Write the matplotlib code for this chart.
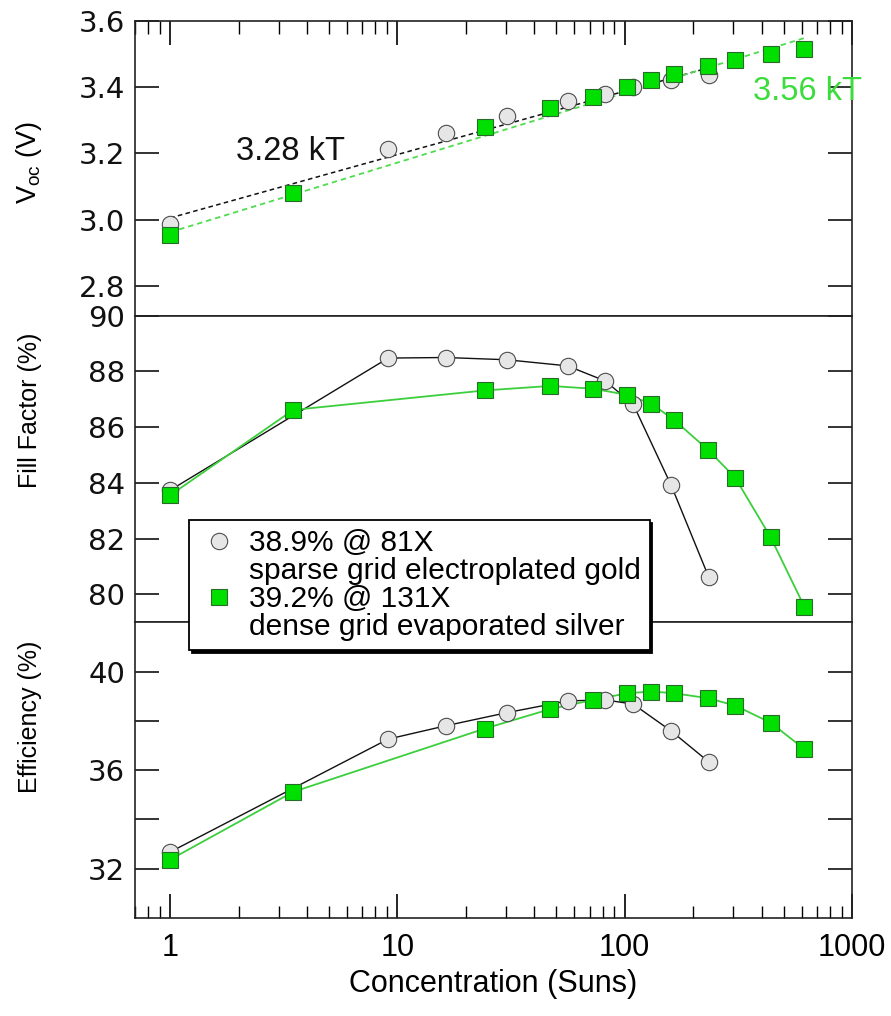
import matplotlib
matplotlib.use("Agg")
import matplotlib.pyplot as plt
from matplotlib.lines import Line2D
from matplotlib.ticker import LogLocator, FixedLocator, NullFormatter

plt.rcParams['font.family'] = ['Liberation Sans', 'DejaVu Sans']
plt.rcParams['mathtext.fontset'] = 'custom'
plt.rcParams['mathtext.rm'] = 'Liberation Sans'
plt.rcParams['mathtext.it'] = 'Liberation Sans:italic'

# ---------------- data ----------------
# sparse grid electroplated gold (circles)
gold_x = [1.0, 9.1, 16.3, 30.2, 56, 82, 109, 160, 234]
gold_voc = [2.986, 3.214, 3.261, 3.311, 3.358, 3.378, 3.399, 3.421, 3.436]
gold_ff = [83.74, 88.48, 88.50, 88.42, 88.20, 87.66, 86.82, 83.92, 80.63]
gold_eff = [32.68, 37.26, 37.80, 38.33, 38.81, 38.85, 38.68, 37.59, 36.34]

# dense grid evaporated silver (squares)
silver_x = [1.0, 3.48, 24.3, 47.1, 72.6, 102.5, 131, 165, 233, 306, 438, 618]
silver_voc = [2.953, 3.079, 3.278, 3.336, 3.371, 3.399, 3.421, 3.439, 3.463, 3.481, 3.501, 3.514]
silver_ff = [83.56, 86.62, 87.32, 87.48, 87.38, 87.16, 86.84, 86.26, 85.18, 84.19, 82.06, 79.55]
silver_eff = [32.37, 35.12, 37.69, 38.48, 38.85, 39.12, 39.19, 39.12, 38.92, 38.62, 37.93, 36.85]

# ideality fit lines in the Voc panel (end points)
fit_gold_x = [1.0, 234]
fit_gold_v = [3.005, 3.458]
fit_silver_x = [1.0, 620]
fit_silver_v = [2.962, 3.548]

x_ticks = [1, 10, 100, 1000]
x_ticklabels = ['1', '10', '100', '1000']
voc_ticks = [2.8, 3.0, 3.2, 3.4, 3.6]
ff_ticks = [80, 82, 84, 86, 88, 90]
eff_ticks = [32, 34, 36, 38, 40]
eff_ticklabels = ['32', '', '36', '', '40']

legend_labels = ['38.9% @ 81X', 'sparse grid electroplated gold',
                 '39.2% @ 131X', 'dense grid evaporated silver']

# ---------------- style ----------------
GOLD_FACE = '#e6e6e6'
GOLD_EDGE = '#4d4d4d'
SIL_FACE = '#00e000'
SIL_EDGE = '#2a6a2a'
SIL_LINE = '#3ccf3c'
FIT_GREEN = '#4ddd4d'
TXT_GREEN = '#3cdc3c'
FS = 22
MS = 11.8

W, H = 891, 1016
fig = plt.figure(figsize=(W / 100, H / 100), dpi=100)

left = 135 / W
width = (852 - 135) / W
ax_top = fig.add_axes([left, 1 - 315.7 / H, width, 295.0 / H])
ax_mid = fig.add_axes([left, 1 - 622.3 / H, width, 306.6 / H])
ax_bot = fig.add_axes([left, 1 - 918.0 / H, width, 295.7 / H])
axes = [ax_top, ax_mid, ax_bot]

for ax in axes:
    ax.set_xscale('log')
    ax.set_xlim(0.7, 1000)
    for s in ax.spines.values():
        s.set_linewidth(1.2)
        s.set_color('#222222')
    ax.tick_params(axis='y', which='major', direction='in', length=17, width=1.2,
                   left=True, right=True, labelsize=FS, pad=7, colors='#111111')
    ax.xaxis.set_major_locator(FixedLocator(x_ticks))
    ax.xaxis.set_minor_locator(LogLocator(base=10, subs=range(2, 10)))
    ax.xaxis.set_minor_formatter(NullFormatter())
    ax.tick_params(axis='x', which='both', direction='in', bottom=False, top=False,
                   labelbottom=False, labeltop=False)

ax_top.tick_params(axis='x', which='major', top=True, length=17, width=1.2)
ax_top.tick_params(axis='x', which='minor', top=True, length=9, width=1.0)
ax_bot.tick_params(axis='x', which='major', bottom=True, length=17, width=1.2,
                   labelbottom=True, labelsize=FS, pad=11)
ax_bot.tick_params(axis='x', which='minor', bottom=True, length=9, width=1.0)
ax_bot.set_xticks(x_ticks)
ax_bot.set_xticklabels(x_ticklabels)

# ----- Voc panel -----
ax_top.set_ylim(2.71, 3.6)
ax_top.set_yticks(voc_ticks)
ax_top.set_yticklabels([f'{v:.1f}' for v in voc_ticks])
ax_top.plot(fit_gold_x, fit_gold_v, color='#111111', lw=1.1, dashes=(3, 2.2), zorder=2)
ax_top.plot(fit_silver_x, fit_silver_v, color=FIT_GREEN, lw=1.3, dashes=(3, 2.2), zorder=2)
ax_top.plot(gold_x, gold_voc, linestyle='none', marker='o', ms=MS, mfc=GOLD_FACE,
            mec=GOLD_EDGE, mew=0.8, zorder=3)
ax_top.plot(silver_x, silver_voc, linestyle='none', marker='s', ms=MS, mfc=SIL_FACE,
            mec=SIL_EDGE, mew=0.8, zorder=4)
ax_top.text(1.95, 3.205, '3.28 kT', fontsize=23.5, color='#111111', ha='left', va='center')
ax_top.text(365, 3.385, '3.56 kT', fontsize=23.5, color=TXT_GREEN, ha='left', va='center',
            clip_on=False, zorder=6)
ax_top.set_ylabel(r'V$_{\mathrm{oc}}$ (V)', fontsize=19.5)
ax_top.yaxis.set_label_coords(-0.127, 0.52)

# ----- Fill factor panel -----
ax_mid.set_ylim(79, 90)
ax_mid.set_yticks(ff_ticks)
ax_mid.plot(gold_x, gold_ff, color='#111111', lw=1.0, zorder=2)
ax_mid.plot(silver_x, silver_ff, color=SIL_LINE, lw=1.3, zorder=2)
ax_mid.plot(gold_x, gold_ff, linestyle='none', marker='o', ms=MS, mfc=GOLD_FACE,
            mec=GOLD_EDGE, mew=0.8, zorder=3)
ax_mid.plot(silver_x, silver_ff, linestyle='none', marker='s', ms=MS, mfc=SIL_FACE,
            mec=SIL_EDGE, mew=0.8, zorder=4)
ax_mid.set_ylabel('Fill Factor (%)', fontsize=18)
ax_mid.yaxis.set_label_coords(-0.130, 0.69)

# ----- Efficiency panel -----
ax_bot.set_ylim(30, 42)
ax_bot.set_yticks(eff_ticks)
ax_bot.set_yticklabels(eff_ticklabels)
ax_bot.plot(gold_x, gold_eff, color='#111111', lw=1.0, zorder=2)
ax_bot.plot(silver_x, silver_eff, color=SIL_LINE, lw=1.3, zorder=2)
ax_bot.plot(gold_x, gold_eff, linestyle='none', marker='o', ms=MS, mfc=GOLD_FACE,
            mec=GOLD_EDGE, mew=0.8, zorder=3)
ax_bot.plot(silver_x, silver_eff, linestyle='none', marker='s', ms=MS, mfc=SIL_FACE,
            mec=SIL_EDGE, mew=0.8, zorder=4)
ax_bot.set_ylabel('Efficiency (%)', fontsize=18)
ax_bot.yaxis.set_label_coords(-0.130, 0.68)
ax_bot.set_xlabel('Concentration (Suns)', fontsize=FS, labelpad=4)

# y tick labels use a wider face, as in the reference
for ax in axes:
    for lab in ax.get_yticklabels():
        lab.set_fontfamily('DejaVu Sans')
        lab.set_fontsize(21)

# ----- legend -----
h_gold = Line2D([], [], linestyle='none', marker='o', ms=MS, mfc=GOLD_FACE, mec=GOLD_EDGE, mew=0.8)
h_sil = Line2D([], [], linestyle='none', marker='s', ms=MS, mfc=SIL_FACE, mec=SIL_EDGE, mew=0.8)
h_none = Line2D([], [], linestyle='none')
leg = fig.legend([h_gold, h_none, h_sil, h_none], legend_labels,
                 loc='upper left', bbox_to_anchor=(189 / W, 1 - 520 / H),
                 bbox_transform=fig.transFigure, borderaxespad=0,
                 fontsize=21.5, frameon=True, fancybox=False,
                 shadow={'color': 'black', 'alpha': 1.0},
                 borderpad=0.3, labelspacing=0.0, handlelength=1.4,
                 handletextpad=0.3, edgecolor='black', framealpha=1.0)
leg.get_frame().set_linewidth(1.3)
leg.set_zorder(10)

fig.savefig('out.png', dpi=100)
